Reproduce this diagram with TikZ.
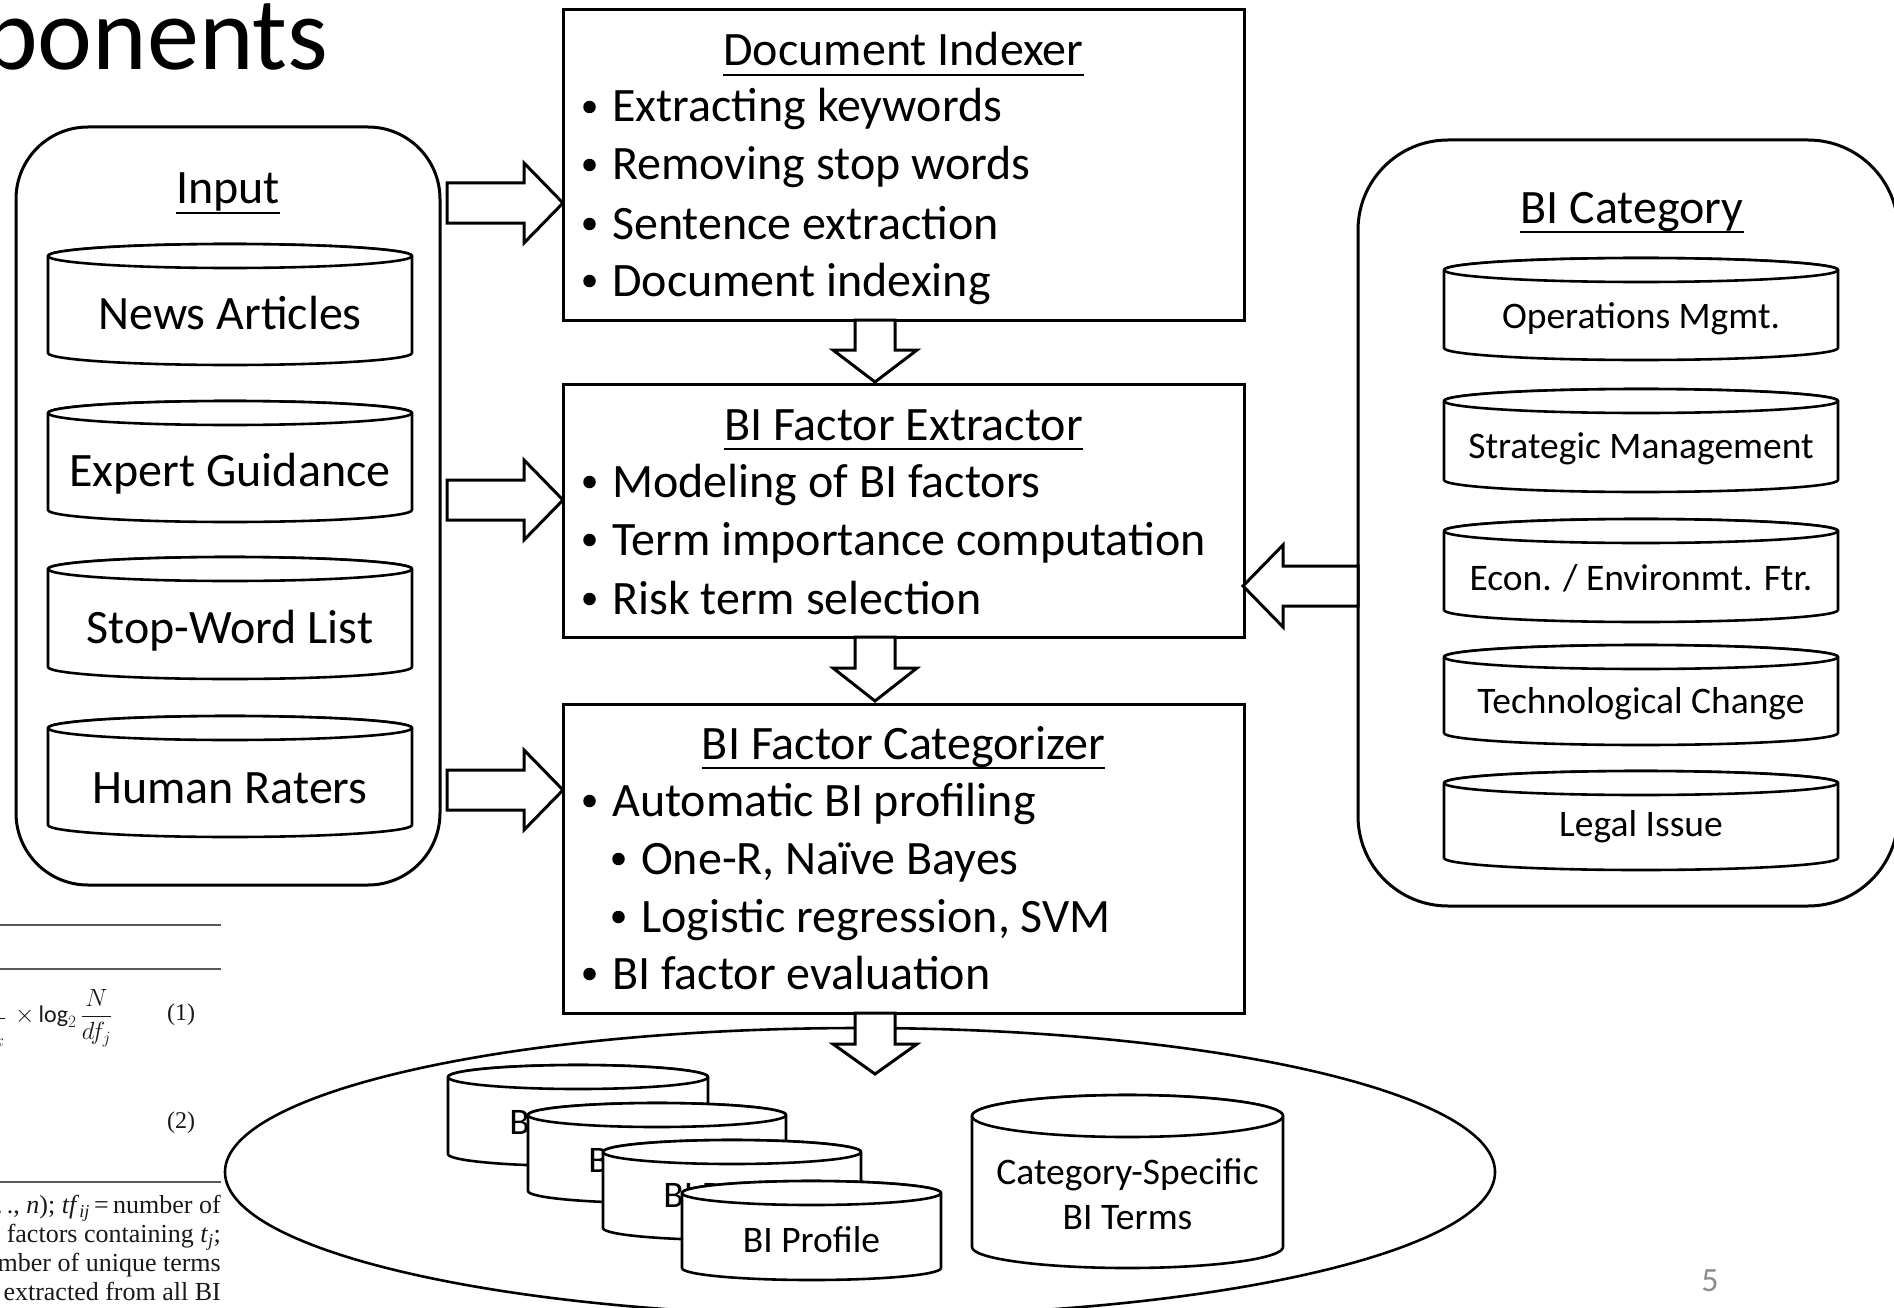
\documentclass[tikz,border=0pt]{standalone}
\usepackage{fontspec}
\setmainfont{Carlito}
\newfontfamily\paperfont{Liberation Serif}
\usetikzlibrary{shapes.geometric}

\tikzset{
  boxrect/.style={draw, line width=3pt, inner sep=0pt, fill=white},
  cylline/.style={draw, line width=2.6pt, fill=white, line join=round},
  barrow/.style={draw, line width=3pt, fill=white, line join=miter},
  bigtext/.style={font=\fontsize{48}{58}\selectfont, inner sep=0pt},
  medtext/.style={font=\fontsize{37.5}{44}\selectfont, inner sep=0pt},
  uline/.style={line width=2.5pt},
  bulletdot/.style={circle, fill=black, inner sep=0pt, minimum size=12.5pt},
  paper/.style={font=\paperfont\fontsize{26}{29}\selectfont, inner sep=0pt, text=black!90},
  papermath/.style={font=\paperfont\fontsize{24}{27}\selectfont, inner sep=0pt, text=black!90},
  paperrule/.style={line width=1.8pt, draw=black!65},
}

% cylinder outline: xl, ytop, xr, ybottom, ry
\newcommand\cylshape[5]{%
  \pgfmathsetmacro\cylcx{(#1+#3)/2}%
  \pgfmathsetmacro\cylrx{(#3-#1)/2}%
  \path[cylline] (#1,#2+#5) -- (#1,#4-#5)
     arc[start angle=180,end angle=0,x radius=\cylrx,y radius=#5]
     -- (#3,#2+#5)
     arc[start angle=0,end angle=-180,x radius=\cylrx,y radius=#5] -- cycle;
  \draw[cylline] (\cylcx,#2+#5) ellipse[x radius=\cylrx,y radius=#5];
}
% right block arrow: y, x start, x head base, x tip
\newcommand\rarr[4]{%
  \draw[barrow] (#2,#1-20) -- (#3,#1-20) -- (#3,#1-40) -- (#4,#1)
     -- (#3,#1+40) -- (#3,#1+20) -- (#2,#1+20) -- cycle;}
% down block arrow: x, y start, y head base, y tip
\newcommand\darr[4]{%
  \draw[barrow] (#1-20,#2) -- (#1-20,#3) -- (#1-42,#3) -- (#1,#4)
     -- (#1+42,#3) -- (#1+20,#3) -- (#1+20,#2) -- cycle;}
% bullet item: name, bullet x, text x, baseline, text
\newcommand\bitem[5]{%
  \node[bulletdot] (#1b) at (#2,#4-15) {};
  \node[bigtext, anchor=base west] (#1) at (#3,#4) {#5};}

\begin{document}
\begin{tikzpicture}[x=1pt, y=-1pt]
\useasboundingbox (0,0) rectangle (1894,1308);
\fill[white] (0,0) rectangle (1894,1308);

% slide title fragment
\node[anchor=base west, inner sep=0pt, font=\fontsize{104}{120}\selectfont] (slidetitle) at (-17,70) {ponents};

% paper fragment (lower left)
\draw[paperrule] (0,925) -- (221,925);
\draw[paperrule] (0,969) -- (221,969);
\draw[paperrule] (0,1182) -- (221,1182);
\node[papermath, anchor=east] (eqf) at (6,1018) {$\displaystyle\frac{tf_{ij}}{\sum_k tf_{ik}^2}$};
\node[papermath, anchor=west] (eqa) at (15,1018) {$\displaystyle\times\log_2\frac{N}{df_j}$};
\node[papermath] (eq1) at (181,1015) {(1)};
\node[papermath] (eq2) at (181,1123) {(2)};
\node[paper, anchor=mid east] (pl1) at (221,1211) {= 1, 2, .\,.\,., \textit{n}); \textit{tf}\textsubscript{\textit{ij}}\,=\,number of};
\node[paper, anchor=mid east] (pl2) at (221,1240) {factors containing \textit{t}\textsubscript{\textit{j}};};
\node[paper, anchor=mid east] (pl3) at (221,1269) {number of unique terms};
\node[paper, anchor=mid east] (pl4) at (221,1298) {extracted from all BI};

% Input group
\node[boxrect, rounded corners=72pt, minimum width=424pt, minimum height=758pt] (inbox) at (228,506) {};
\node[bigtext, anchor=base] (intitle) at (228,204) {Input};
\draw[uline] ([yshift=-9pt]intitle.base west) -- ([yshift=-9pt]intitle.base east);
\cylshape{48}{244}{412}{365}{12}
\node[bigtext, anchor=base] (news) at (230,329) {News Articles};
\cylshape{48}{401}{412}{522}{12}
\node[bigtext, anchor=base] (expert) at (230,486) {Expert Guidance};
\cylshape{48}{557}{412}{679}{12}
\node[bigtext, anchor=base] (stopw) at (230,643) {Stop-Word List};
\cylshape{48}{716}{412}{837}{12}
\node[bigtext, anchor=base] (raters) at (230,803) {Human Raters};

% Document Indexer
\node[boxrect, minimum width=681pt, minimum height=310pt] (di) at (903.5,165) {};
\node[bigtext, anchor=base] (dititle) at (903.5,66) {Document Indexer};
\draw[uline] ([yshift=-9pt]dititle.base west) -- ([yshift=-9pt]dititle.base east);
\bitem{dia}{589.5}{612}{122}{Extracting keywords}
\bitem{dib}{589.5}{612}{180}{Removing stop words}
\bitem{dic}{589.5}{612}{239}{Sentence extraction}
\bitem{did}{589.5}{612}{296}{Document indexing}

% BI Factor Extractor
\node[boxrect, minimum width=681pt, minimum height=253pt] (bfe) at (903.5,510.5) {};
\node[bigtext, anchor=base] (bfetitle) at (903.5,440) {BI Factor Extractor};
\draw[uline] ([yshift=-9pt]bfetitle.base west) -- ([yshift=-9pt]bfetitle.base east);
\bitem{bfea}{589.5}{612}{497}{Modeling of BI factors}
\bitem{bfeb}{589.5}{612}{555}{Term importance computation}
\bitem{bfec}{589.5}{612}{614}{Risk term selection}

% BI Factor Categorizer
\node[boxrect, minimum width=681pt, minimum height=309pt] (bfc) at (903.5,858.5) {};
\node[bigtext, anchor=base] (bfctitle) at (903.5,759) {BI Factor Categorizer};
\draw[uline] ([yshift=-9pt]bfctitle.base west) -- ([yshift=-9pt]bfctitle.base east);
\bitem{bfca}{589.5}{612}{816}{Automatic BI profiling}
\bitem{bfcb}{618.5}{641}{874}{One-R, Naïve Bayes}
\bitem{bfcc}{618.5}{641}{932}{Logistic regression, SVM}
\bitem{bfcd}{589.5}{612}{989}{BI factor evaluation}

% BI Category group
\node[boxrect, rounded corners=90pt, minimum width=540pt, minimum height=766pt] (catbox) at (1628,523) {};
\node[bigtext, anchor=base] (cattitle) at (1632,223) {BI Category};
\draw[uline] ([yshift=-9pt]cattitle.base west) -- ([yshift=-9pt]cattitle.base east);
\cylshape{1444}{258}{1838}{360}{12}
\node[medtext, anchor=base] (ops) at (1641,328) {Operations Mgmt.};
\cylshape{1444}{389}{1838}{492}{12}
\node[medtext, anchor=base] (strat) at (1641,458) {Strategic Management};
\cylshape{1444}{519}{1838}{622}{12}
\node[medtext, anchor=base] (econ) at (1641,590) {Econ. / Environmt. Ftr.};
\cylshape{1444}{645}{1838}{745}{12}
\node[medtext, anchor=base] (tech) at (1641,713) {Technological Change};
\cylshape{1444}{771}{1838}{870}{12}
\node[medtext, anchor=base] (legal) at (1641,836) {Legal Issue};

% output ellipse
\node[draw, ellipse, line width=2.6pt, minimum width=1270pt, minimum height=288pt, inner sep=0pt] (outer) at (860,1172) {};
\cylshape{448}{1065}{708}{1166}{12}
\node[medtext, anchor=base] (prof1) at (578,1134) {BI Profile};
\cylshape{528}{1103}{786}{1203}{12}
\node[medtext, anchor=base] (prof2) at (657,1172) {BI Profile};
\cylshape{603}{1140}{861}{1240}{12}
\node[medtext, anchor=base] (prof3) at (732,1207) {BI Profile};
\cylshape{682}{1181}{941}{1280}{12}
\node[medtext, anchor=base] (prof4) at (811.5,1252) {BI Profile};
\cylshape{972}{1095}{1283}{1268}{21}
\node[medtext, anchor=base] (cst1) at (1127.5,1184) {Category-Specific};
\node[medtext, anchor=base] (cst2) at (1127.5,1229) {BI Terms};

% block arrows
\rarr{203}{447}{524}{563}
\rarr{500}{447}{524}{563}
\rarr{790}{447}{524}{563}
\darr{875}{320}{350}{382}
\darr{875}{637}{668}{701}
\darr{875}{1013}{1044}{1074}
\draw[barrow] (1358,566) -- (1283,566) -- (1283,545) -- (1243,586)
   -- (1283,627) -- (1283,606) -- (1358,606) -- cycle;

% page number
\node[font=\fontsize{34}{40}\selectfont, text=black!45, anchor=base, inner sep=0pt] (pnum) at (1710,1291) {5};
\end{tikzpicture}
\end{document}
